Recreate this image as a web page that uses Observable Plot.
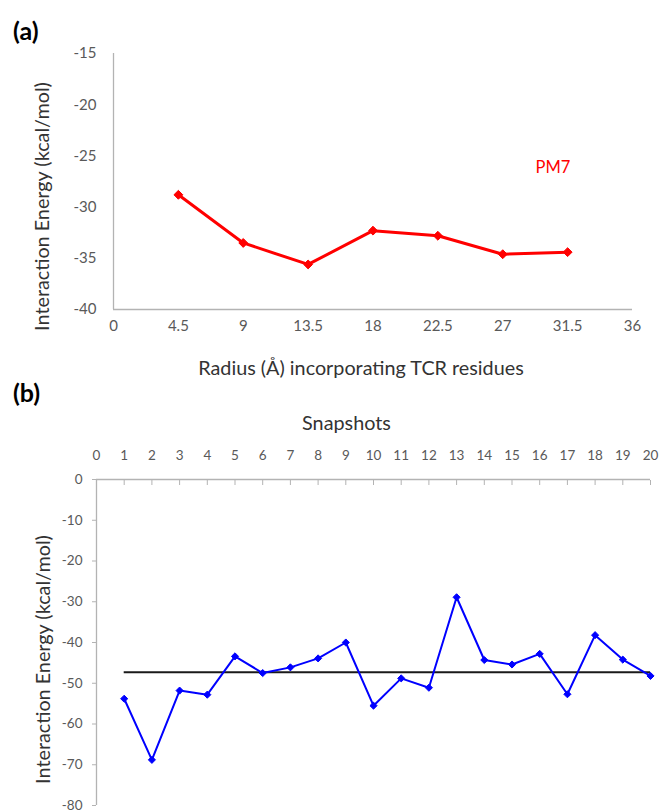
<!DOCTYPE html>
<html><head><meta charset="utf-8">
<script src="https://cdn.jsdelivr.net/npm/d3@7"></script>
<script src="https://cdn.jsdelivr.net/npm/@observablehq/plot@0.6"></script>
<style>
body{margin:0;background:#fff;}
#wrap{position:relative;width:660px;height:810px;overflow:hidden;font-family:Lato,sans-serif;}
.panel{position:absolute;left:13px;font-weight:bold;font-size:25px;line-height:1;color:#000;font-family:Lato,sans-serif;}
#pa{position:absolute;left:0;top:0;}
#pb{position:absolute;left:0;top:380px;}
</style></head><body>
<div id="wrap">
<div id="pa"></div><div id="pb"></div>
<div class="panel" style="top:18px">(a)</div>
<div class="panel" style="top:380px">(b)</div>
</div>
<script>
// Panel (a)
const radius = [4.5, 9, 13.5, 18, 22.5, 27, 31.5];
const energyPM7 = [-28.8, -33.5, -35.6, -32.3, -32.8, -34.6, -34.4];
const radiusTicks = [0, 4.5, 9, 13.5, 18, 22.5, 27, 31.5, 36];
const energyTicksA = [-15, -20, -25, -30, -35, -40];
const seriesLabel = "PM7";
const xTitleA = "Radius (Å) incorporating TCR residues";
const yTitle = "Interaction Energy (kcal/mol)";

// Panel (b)
const snapshots = [1, 2, 3, 4, 5, 6, 7, 8, 9, 10, 11, 12, 13, 14, 15, 16, 17, 18, 19, 20];
const energySnap = [-53.8, -68.8, -51.8, -52.8, -43.4, -47.5, -46.1, -43.9, -40.0, -55.5,
                    -48.8, -51.1, -28.9, -44.3, -45.4, -42.8, -52.7, -38.2, -44.2, -48.2];
const meanEnergy = -47.3;
const snapshotTicks = [0, 1, 2, 3, 4, 5, 6, 7, 8, 9, 10, 11, 12, 13, 14, 15, 16, 17, 18, 19, 20];
const energyTicksB = [0, -10, -20, -30, -40, -50, -60, -70, -80];
const xTitleB = "Snapshots";

const axisGray = "#b3b3b3";
const tickText = "#595959";
const titleText = "#333333";
const font = "Lato, sans-serif";
const fmt = d => String(d);

const dataA = radius.map((r, i) => ({r, e: energyPM7[i]}));
const dataB = snapshots.map((s, i) => ({s, e: energySnap[i]}));

const plotA = Plot.plot({
  width: 660, height: 390,
  marginLeft: 113, marginRight: 28, marginTop: 53, marginBottom: 81,
  x: {domain: [0, 36]},
  y: {domain: [-40, -15]},
  style: {fontFamily: font, background: "transparent", overflow: "visible"},
  marks: [
    Plot.ruleX([0], {stroke: axisGray, strokeWidth: 1.3}),
    Plot.ruleY([-40], {stroke: axisGray, strokeWidth: 1.3}),
    Plot.axisX({ticks: radiusTicks, tickFormat: fmt, tickSize: 0, tickPadding: 11, fontSize: 15, color: tickText, label: null}),
    Plot.axisY({ticks: energyTicksA, tickFormat: fmt, tickSize: 0, tickPadding: 17, fontSize: 15, color: tickText, label: null}),
    Plot.line(dataA, {x: "r", y: "e", stroke: "#ff0000", strokeWidth: 3}),
    Plot.dot(dataA, {x: "r", y: "e", symbol: "diamond2", r: 4, fill: "#ff0000", stroke: "#ff0000", strokeWidth: 1}),
    Plot.text([seriesLabel], {frameAnchor: "top-right", textAnchor: "start", lineAnchor: "middle", dx: -97, dy: 114, fontSize: 16.5, fill: "#ff0000"}),
    Plot.text([xTitleA], {frameAnchor: "bottom", textAnchor: "middle", lineAnchor: "middle", dx: -12, dy: 59, fontSize: 19.8, fill: titleText}),
    Plot.text([yTitle], {frameAnchor: "left", textAnchor: "middle", lineAnchor: "middle", rotate: -90, dx: -71, dy: 25, fontSize: 19.8, fill: titleText})
  ]
});
document.getElementById("pa").appendChild(plotA);

const plotB = Plot.plot({
  width: 660, height: 430,
  marginLeft: 96, marginRight: 10, marginTop: 99, marginBottom: 5,
  x: {domain: [0, 20]},
  y: {domain: [-80, 0]},
  style: {fontFamily: font, background: "transparent", overflow: "visible"},
  marks: [
    Plot.ruleX([0], {stroke: axisGray, strokeWidth: 1.3}),
    Plot.ruleY([0], {stroke: axisGray, strokeWidth: 1.3}),
    Plot.axisX({anchor: "top", ticks: snapshotTicks, tickSize: -5, tickFormat: () => "", color: axisGray, label: null}),
    Plot.axisX({anchor: "top", ticks: snapshotTicks, tickFormat: fmt, tickSize: 0, tickPadding: 20, fontSize: 13.5, color: tickText, label: null}),
    Plot.axisY({ticks: energyTicksB, tickSize: 4, tickFormat: () => "", color: axisGray, label: null}),
    Plot.axisY({ticks: energyTicksB, tickFormat: fmt, tickSize: 0, tickPadding: 14, fontSize: 13.5, color: tickText, label: null}),
    Plot.ruleY([meanEnergy], {x1: snapshots[0], x2: snapshots[snapshots.length - 1], stroke: "#1a1a1a", strokeWidth: 2}),
    Plot.line(dataB, {x: "s", y: "e", stroke: "#0000ff", strokeWidth: 2}),
    Plot.dot(dataB, {x: "s", y: "e", symbol: "diamond2", r: 3.2, fill: "#0000ff", stroke: "#0000ff", strokeWidth: 1}),
    Plot.text([xTitleB], {frameAnchor: "top", textAnchor: "middle", lineAnchor: "middle", dx: -27, dy: -56, fontSize: 19.8, fill: titleText}),
    Plot.text([yTitle], {frameAnchor: "left", textAnchor: "middle", lineAnchor: "middle", rotate: -90, dx: -53, dy: 17, fontSize: 19.8, fill: titleText})
  ]
});
document.getElementById("pb").appendChild(plotB);
</script>
</body></html>
